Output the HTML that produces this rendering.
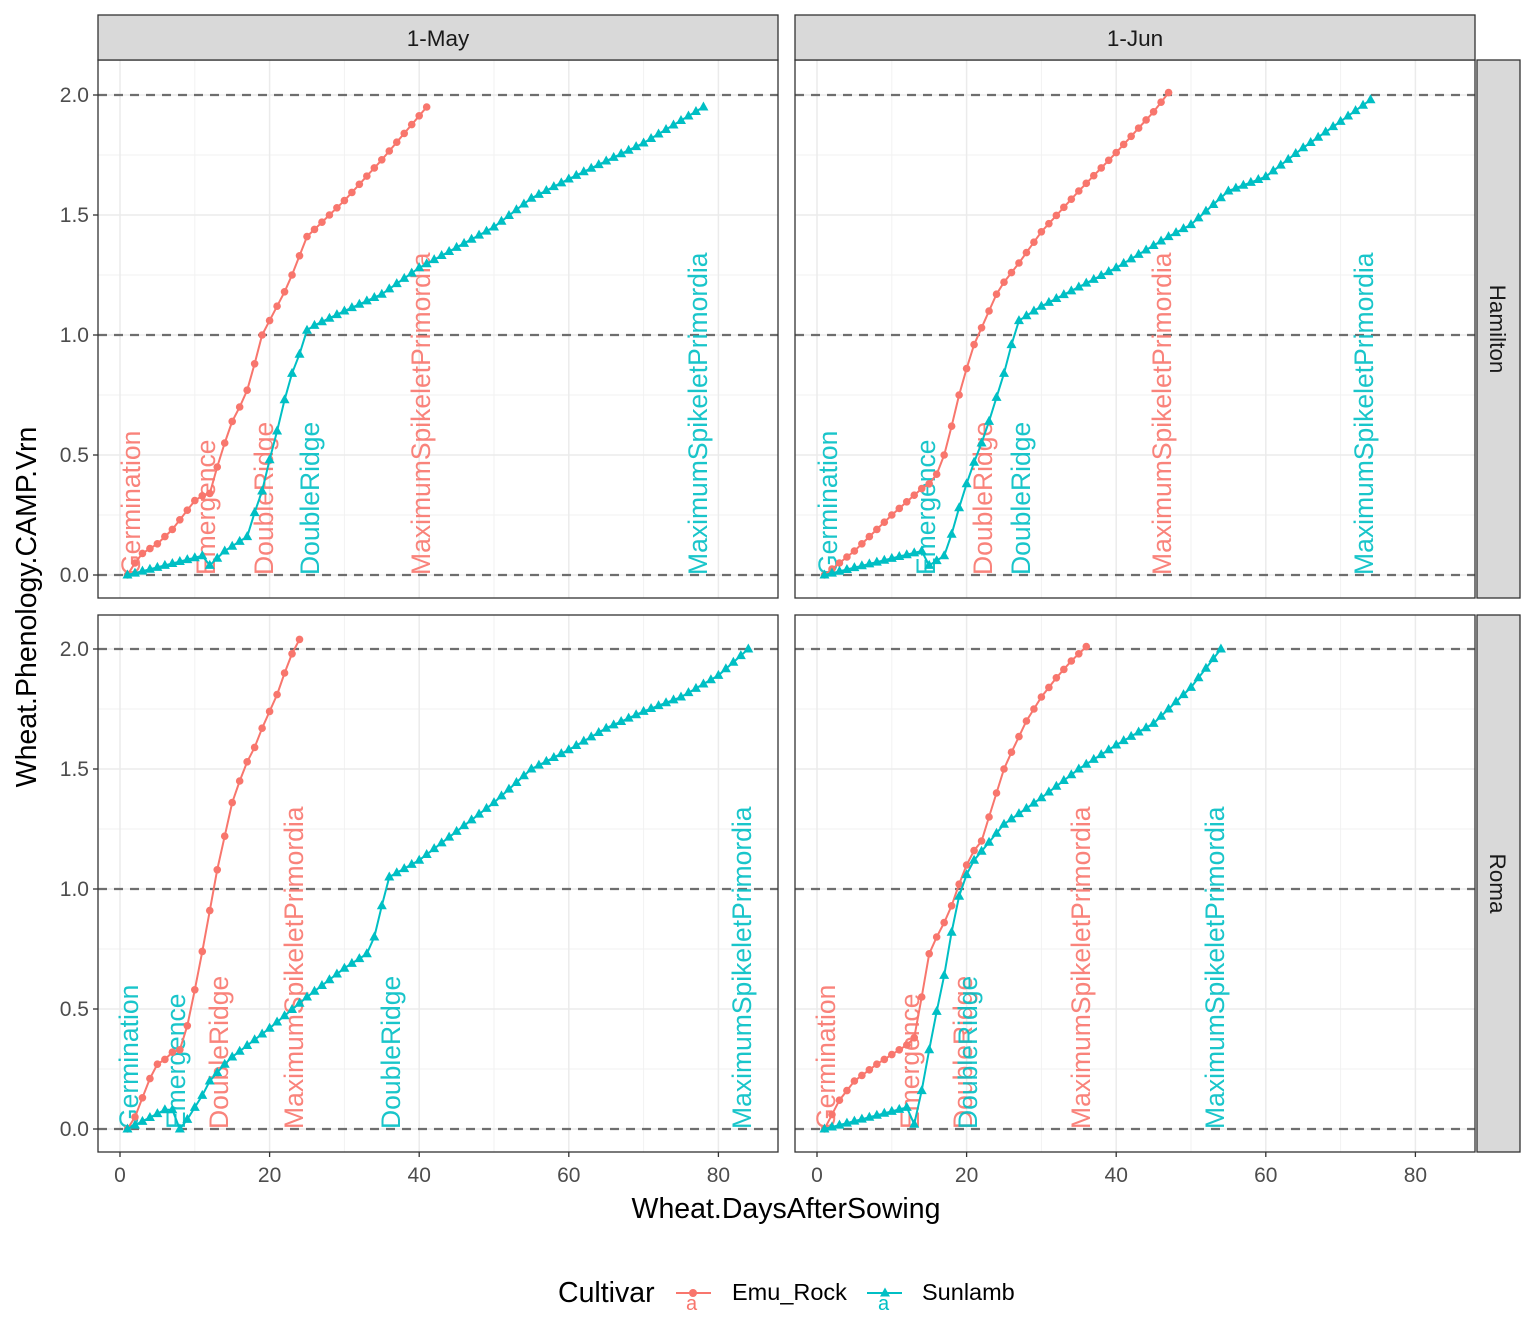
<!DOCTYPE html>
<html><head><meta charset="utf-8">
<style>
html,body{margin:0;padding:0;background:#fff;}
svg{display:block;font-family:"Liberation Sans",sans-serif;}
</style></head>
<body>
<svg id="s" width="1536" height="1344" viewBox="0 0 1536 1344" xmlns="http://www.w3.org/2000/svg"></svg>
<script>
const R="#F8766D",C="#00BFC4";
const s=document.getElementById('s');
let h='';
const panels=[
 {x0:98,x1:778,y0:60,y1:598,zx:120,zy:575,lab:[['Germination',130,R],['Emergence',205,R],['DoubleRidge',263,R],['DoubleRidge',309,C],['MaximumSpikeletPrimordia',420,R],['MaximumSpikeletPrimordia',697,C]],
  e:[[1,0],[2,.05],[3,.09],[4,.11],[5,.13],[6,.16],[7,.19],[8,.23],[9,.27],[10,.31],[11,.33],[12,.34],[13,.45],[14,.55],[15,.64],[16,.7],[17,.77],[18,.88],[19,1],[20,1.06],[21,1.12],[22,1.18],[23,1.25],[24,1.33],[25,1.41],[27,1.47],[30,1.56],[35,1.73],[41,1.95]],
  t:[[1,0],[11,.08],[12,.04],[13,.07],[14,.1],[15,.12],[16,.14],[17,.16],[18,.26],[19,.35],[20,.48],[21,.6],[22,.73],[23,.84],[24,.92],[25,1.02],[26,1.04],[30,1.1],[35,1.17],[40,1.28],[50,1.45],[55,1.57],[60,1.65],[70,1.8],[78,1.95]]},
 {x0:795,x1:1475,y0:60,y1:598,zx:817,zy:575,lab:[['Germination',827,C],['Emergence',925,C],['DoubleRidge',982,R],['DoubleRidge',1020,C],['MaximumSpikeletPrimordia',1161,R],['MaximumSpikeletPrimordia',1363,C]],
  e:[[1,0],[5,.1],[10,.25],[14,.36],[15,.38],[16,.42],[17,.5],[18,.62],[19,.75],[20,.86],[21,.96],[22,1.03],[23,1.1],[24,1.17],[25,1.22],[27,1.3],[30,1.43],[35,1.6],[40,1.76],[45,1.93],[47,2.01]],
  t:[[1,0],[14,.1],[15,.04],[16,.06],[17,.08],[18,.17],[19,.28],[20,.38],[21,.47],[22,.55],[23,.64],[24,.74],[25,.84],[26,.96],[27,1.06],[30,1.12],[40,1.28],[47,1.41],[50,1.46],[55,1.6],[60,1.66],[65,1.78],[70,1.89],[74,1.98]]},
 {x0:98,x1:778,y0:615,y1:1152,zx:120,zy:1129,lab:[['Germination',128,C],['Emergence',175,C],['DoubleRidge',218,R],['MaximumSpikeletPrimordia',293,R],['DoubleRidge',390,C],['MaximumSpikeletPrimordia',741,C]],
  e:[[1,0],[2,.05],[3,.13],[4,.21],[5,.27],[6,.29],[7,.32],[8,.33],[9,.43],[10,.58],[11,.74],[12,.91],[13,1.08],[14,1.22],[15,1.36],[16,1.45],[17,1.53],[18,1.59],[19,1.67],[20,1.74],[21,1.81],[22,1.9],[23,1.98],[24,2.04]],
  t:[[1,0],[6,.08],[7,.08],[8,0],[9,.04],[10,.09],[11,.14],[12,.2],[14,.27],[15,.3],[20,.42],[25,.55],[30,.67],[33,.73],[34,.8],[35,.93],[36,1.05],[40,1.12],[45,1.24],[50,1.36],[55,1.5],[60,1.58],[65,1.67],[70,1.74],[75,1.8],[80,1.89],[84,2]]},
 {x0:795,x1:1475,y0:615,y1:1152,zx:817,zy:1129,lab:[['Germination',825,R],['Emergence',909,R],['DoubleRidge',962,R],['DoubleRidge',967,C],['MaximumSpikeletPrimordia',1080,R],['MaximumSpikeletPrimordia',1214,C]],
  e:[[1,0],[3,.12],[5,.2],[8,.27],[12,.35],[13,.38],[14,.55],[15,.73],[16,.8],[17,.86],[18,.93],[19,1.02],[20,1.1],[21,1.16],[22,1.2],[23,1.3],[24,1.4],[25,1.5],[26,1.57],[28,1.7],[30,1.8],[32,1.88],[34,1.95],[36,2.01]],
  t:[[1,0],[12,.09],[13,.02],[14,.16],[15,.33],[16,.49],[17,.64],[18,.82],[19,.97],[20,1.06],[21,1.12],[25,1.27],[30,1.38],[35,1.5],[40,1.6],[45,1.69],[50,1.84],[54,2]]}
];
const DX=7.48,DY=240;
function interp(k){const o=[];for(let d=k[0][0];d<=k[k.length-1][0];d++){let i=0;while(i<k.length-1&&k[i+1][0]<d)i++;const a=k[i],b=k[Math.min(i+1,k.length-1)];const v=b[0]==a[0]?a[1]:a[1]+(b[1]-a[1])*(d-a[0])/(b[0]-a[0]);o.push([d,v]);}return o;}
panels.forEach((p,pi)=>{
 h+=`<rect x="${p.x0}" y="${p.y0}" width="${p.x1-p.x0}" height="${p.y1-p.y0}" fill="#fff"/>`;
 for(let d=10;d<=90;d+=20){const x=p.zx+d*DX;if(x<p.x1)h+=`<line x1="${x}" x2="${x}" y1="${p.y0}" y2="${p.y1}" stroke="#f2f2f2" stroke-width="1"/>`;}
 for(let v=.25;v<2.2;v+=.5){const y=p.zy-v*DY;h+=`<line x1="${p.x0}" x2="${p.x1}" y1="${y}" y2="${y}" stroke="#f2f2f2" stroke-width="1"/>`;}
 for(let d=0;d<=80;d+=20){const x=p.zx+d*DX;h+=`<line x1="${x}" x2="${x}" y1="${p.y0}" y2="${p.y1}" stroke="#ebebeb" stroke-width="1.5"/>`;}
 for(let v=0;v<=2;v+=.5){const y=p.zy-v*DY;h+=`<line x1="${p.x0}" x2="${p.x1}" y1="${y}" y2="${y}" stroke="#ebebeb" stroke-width="1.5"/>`;}
 [0,1,2].forEach(v=>{const y=p.zy-v*DY;h+=`<line x1="${p.x0}" x2="${p.x1}" y1="${y}" y2="${y}" stroke="#6e6e6e" stroke-width="2.3" stroke-dasharray="9,7"/>`;});
 p.lab.forEach(l=>{h+=`<text transform="translate(${l[1]+10},${p.zy}) rotate(-90)" font-size="26.5" fill="${l[2]}" fill-opacity="0.9">${l[0]}</text>`;});
 [[p.e,R,0],[p.t,C,1]].forEach(([k,col,tri])=>{const pts=interp(k).map(q=>[p.zx+q[0]*DX,p.zy-q[1]*DY]);
  h+=`<polyline fill="none" stroke="${col}" stroke-width="2" points="${pts.map(q=>q[0].toFixed(1)+','+q[1].toFixed(1)).join(' ')}"/>`;
  pts.forEach(q=>{if(tri)h+=`<polygon fill="${col}" points="${q[0]},${q[1]-5.5} ${q[0]-5},${q[1]+3.5} ${q[0]+5},${q[1]+3.5}"/>`;else h+=`<circle cx="${q[0]}" cy="${q[1]}" r="3.8" fill="${col}"/>`;});});
 h+=`<rect x="${p.x0}" y="${p.y0}" width="${p.x1-p.x0}" height="${p.y1-p.y0}" fill="none" stroke="#333" stroke-width="1.3"/>`;
 if(pi%2==0){['0.0','0.5','1.0','1.5','2.0'].forEach((t,i)=>{const y=p.zy-i*.5*DY;h+=`<line x1="${p.x0-5}" x2="${p.x0}" y1="${y}" y2="${y}" stroke="#333" stroke-width="1.3"/><text x="${p.x0-9}" y="${y+7}" font-size="21" fill="#4d4d4d" text-anchor="end">${t}</text>`;});}
 if(pi>=2){[0,20,40,60,80].forEach(d=>{const x=p.zx+d*DX;h+=`<line x1="${x}" x2="${x}" y1="${p.y1}" y2="${p.y1+5}" stroke="#333" stroke-width="1.3"/><text x="${x}" y="${p.y1+30}" font-size="21" fill="#4d4d4d" text-anchor="middle">${d}</text>`;});}
});
[[98,'1-May'],[795,'1-Jun']].forEach(([x,t])=>{h+=`<rect x="${x}" y="15" width="680" height="45" fill="#d9d9d9" stroke="#333" stroke-width="1.3"/><text x="${x+340}" y="46" font-size="22.5" fill="#1a1a1a" text-anchor="middle">${t}</text>`;});
[[60,598,'Hamilton'],[615,1152,'Roma']].forEach(([a,b,t])=>{h+=`<rect x="1477" y="${a}" width="43" height="${b-a}" fill="#d9d9d9" stroke="#333" stroke-width="1.3"/><text transform="translate(1490,${(a+b)/2}) rotate(90)" font-size="22.5" fill="#1a1a1a" text-anchor="middle">${t}</text>`;});
h+=`<text transform="translate(36,607) rotate(-90)" font-size="28.5" fill="#000" text-anchor="middle">Wheat.Phenology.CAMP.Vrn</text>`;
h+=`<text x="786" y="1218" font-size="28.5" fill="#000" text-anchor="middle">Wheat.DaysAfterSowing</text>`;
h+=`<text x="558" y="1302" font-size="28.5" fill="#000">Cultivar</text>`;
h+=`<line x1="676" x2="711" y1="1293" y2="1293" stroke="${R}" stroke-width="2"/><circle cx="693" cy="1293" r="4" fill="${R}"/><text x="686" y="1310" font-size="20" fill="${R}">a</text>`;
h+=`<text x="732" y="1300" font-size="23.5" fill="#000">Emu_Rock</text>`;
h+=`<line x1="867" x2="902" y1="1293" y2="1293" stroke="${C}" stroke-width="2"/><polygon fill="${C}" points="885,1287.5 880,1296.5 890,1296.5"/><text x="878" y="1310" font-size="20" fill="${C}">a</text>`;
h+=`<text x="922" y="1300" font-size="23.5" fill="#000">Sunlamb</text>`;
s.innerHTML=h;
</script>
</body></html>
